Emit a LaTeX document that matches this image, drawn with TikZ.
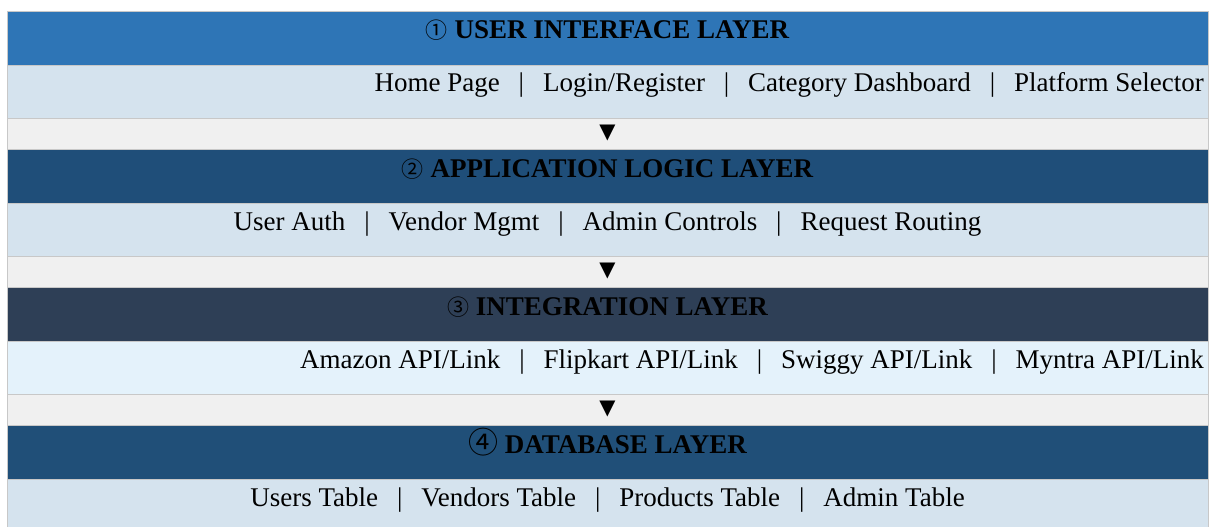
\documentclass[tikz,border=0pt]{standalone}
\usepackage{fontspec}
\setmainfont{Liberation Serif}
\newfontfamily\symfont{DejaVu Sans}
\newfontfamily\circfont{Noto Sans CJK SC}
\usetikzlibrary{positioning}
\definecolor{uiblue}{HTML}{2E75B6}
\definecolor{logicblue}{HTML}{1F4E79}
\definecolor{slateblue}{HTML}{2E3F56}
\definecolor{dbblue}{HTML}{204F78}
\definecolor{paleblue}{HTML}{D5E3EE}
\definecolor{iceblue}{HTML}{E4F2FB}
\definecolor{gapgray}{HTML}{F0F0F0}
\definecolor{gridgray}{HTML}{C8C8C8}
\newcommand{\sepbar}{\hspace{0.7em}|\hspace{0.7em}}

\begin{document}
\begin{tikzpicture}[x=1pt,y=1pt,node distance=0pt,font=\fontsize{27}{32}\selectfont]
    \tikzstyle{row}=[draw=gridgray,minimum width=1201pt,inner sep=0pt,outer sep=0pt,anchor=north west]
    \tikzstyle{head}=[row,minimum height=54pt]
    \tikzstyle{body}=[row,minimum height=53pt,fill=paleblue]
    \tikzstyle{gap}=[row,minimum height=31pt,fill=gapgray]
    \tikzstyle{headtext}=[anchor=base,inner sep=0pt,font=\fontsize{27}{32}\selectfont\bfseries]
    \tikzstyle{bodytext}=[anchor=base,inner sep=0pt]
    \tikzstyle{downmark}=[inner sep=0pt,font=\fontsize{21}{24}\selectfont\symfont]

    \useasboundingbox (0,0) rectangle (1216,-527);
    \clip (0,0) rectangle (1216,-527);

    % layer rows
    \node[head,fill=uiblue] (h1) at (7,-11) {};
    \node[body,below=of h1] (b1) {};
    \node[gap,below=of b1] (g1) {};
    \node[head,fill=logicblue,below=of g1] (h2) {};
    \node[body,below=of h2] (b2) {};
    \node[gap,below=of b2] (g2) {};
    \node[head,fill=slateblue,below=of g2] (h3) {};
    \node[body,fill=iceblue,below=of h3] (b3) {};
    \node[gap,below=of b3] (g3) {};
    \node[head,fill=dbblue,below=of g3] (h4) {};
    \node[body,below=of h4] (b4) {};

    % headings
    \node[headtext] (t1) at ([yshift=-28pt]h1.north) {{\circfont\mdseries\fontsize{22}{24}\selectfont ①} USER INTERFACE LAYER};
    \node[headtext] (t2) at ([yshift=-28pt]h2.north) {{\circfont\mdseries\fontsize{22}{24}\selectfont ②} APPLICATION LOGIC LAYER};
    \node[headtext] (t3) at ([yshift=-28pt]h3.north) {{\circfont\mdseries\fontsize{22}{24}\selectfont ③} INTEGRATION LAYER};
    \node[headtext] (t4) at ([yshift=-28pt]h4.north) {{\circfont\mdseries\fontsize{30}{30}\selectfont ④} DATABASE LAYER};

    % components
    \node[bodytext,anchor=base east] (c1) at ([xshift=-4pt,yshift=-27pt]b1.north east)
        {Home Page\sepbar Login/Register\sepbar Category Dashboard\sepbar Platform Selector};
    \node[bodytext] (c2) at ([yshift=-27pt]b2.north)
        {User Auth\sepbar Vendor Mgmt\sepbar Admin Controls\sepbar Request Routing};
    \node[bodytext,anchor=base east] (c3) at ([xshift=-4pt,yshift=-27pt]b3.north east)
        {Amazon API/Link\sepbar Flipkart API/Link\sepbar Swiggy API/Link\sepbar Myntra API/Link};
    \node[bodytext] (c4) at ([yshift=-27pt]b4.north)
        {Users Table\sepbar Vendors Table\sepbar Products Table\sepbar Admin Table};

    % flow marks
    \node[downmark] (d1) at (g1.center) {▼};
    \node[downmark] (d2) at (g2.center) {▼};
    \node[downmark] (d3) at (g3.center) {▼};
\end{tikzpicture}
\end{document}
